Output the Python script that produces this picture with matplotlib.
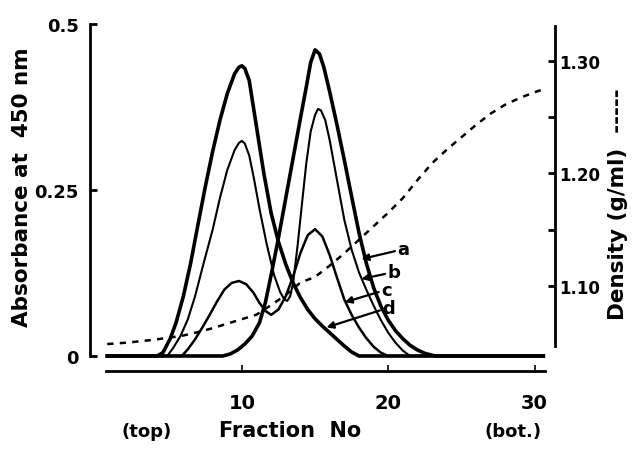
import matplotlib
matplotlib.use("Agg")
import matplotlib.pyplot as plt

# absorbance profiles (fraction number, A450)
frac_a = [0.8, 8.7, 9.2, 9.7, 10.2, 10.7, 11.2, 11.6, 12.0, 12.5, 13.0, 13.5, 14.0, 14.4, 14.7,
          15.0, 15.3, 15.6, 16.0, 16.5, 17.0, 17.5, 18.0, 18.5, 19.0, 19.5, 20.0, 20.5, 21.0,
          21.5, 22.0, 22.5, 23.2, 30.6]
abs_a = [0, 0, 0.003, 0.009, 0.018, 0.030, 0.050, 0.080, 0.122, 0.178, 0.238, 0.298, 0.358,
         0.405, 0.442, 0.461, 0.455, 0.435, 0.398, 0.348, 0.295, 0.240, 0.186, 0.140, 0.103,
         0.075, 0.054, 0.038, 0.026, 0.016, 0.009, 0.004, 0, 0]

frac_b = [0.8, 4.9, 5.3, 5.8, 6.3, 6.8, 7.4, 8.0, 8.5, 9.0, 9.5, 9.8, 10.0, 10.2, 10.5, 10.8,
          11.2, 11.7, 12.2, 12.6, 12.9, 13.1, 13.3, 13.5, 13.8, 14.1, 14.4, 14.7, 15.0, 15.2,
          15.4, 15.7, 16.0, 16.5, 17.0, 17.5, 18.0, 18.5, 19.0, 19.5, 20.0, 20.5, 21.0, 21.5, 30.6]
abs_b = [0, 0, 0.012, 0.030, 0.055, 0.090, 0.141, 0.190, 0.238, 0.280, 0.310, 0.321, 0.324,
         0.320, 0.302, 0.270, 0.222, 0.168, 0.122, 0.097, 0.085, 0.083, 0.090, 0.110, 0.165,
         0.228, 0.290, 0.338, 0.363, 0.372, 0.370, 0.355, 0.325, 0.265, 0.205, 0.160, 0.126,
         0.100, 0.076, 0.054, 0.035, 0.020, 0.008, 0, 0]

frac_c = [0.8, 5.9, 6.3, 6.8, 7.3, 7.8, 8.3, 8.8, 9.3, 9.8, 10.3, 10.8, 11.2, 11.6, 12.0,
          12.5, 13.0, 13.5, 14.0, 14.5, 15.0, 15.5, 16.0, 16.5, 17.0, 17.5, 18.0, 18.5, 19.0,
          19.5, 20.0, 30.6]
abs_c = [0, 0, 0.010, 0.025, 0.043, 0.062, 0.082, 0.100, 0.110, 0.113, 0.108, 0.095, 0.080,
         0.068, 0.062, 0.070, 0.090, 0.120, 0.155, 0.182, 0.191, 0.180, 0.152, 0.118, 0.085,
         0.062, 0.043, 0.027, 0.014, 0.005, 0, 0]

frac_d = [0.8, 4.2, 4.6, 5.1, 5.5, 6.0, 6.5, 7.0, 7.5, 8.0, 8.5, 9.0, 9.5, 9.8, 10.0, 10.2,
          10.5, 11.0, 11.5, 12.0, 12.5, 13.0, 13.5, 14.0, 14.5, 15.0, 15.5, 16.0, 16.5, 17.0,
          17.5, 18.0, 30.6]
abs_d = [0, 0, 0.005, 0.026, 0.050, 0.090, 0.140, 0.198, 0.255, 0.308, 0.355, 0.395, 0.425,
         0.435, 0.437, 0.433, 0.415, 0.345, 0.275, 0.215, 0.172, 0.138, 0.110, 0.088, 0.070,
         0.056, 0.045, 0.035, 0.025, 0.015, 0.006, 0, 0]

# density gradient (g/ml)
frac_dens = [0.8, 2, 3, 4, 5, 6, 7, 8, 9, 10, 11, 12, 13, 14, 15, 16, 17, 18, 19, 20, 21,
             22, 23, 24, 25, 26, 27, 28, 29, 30, 30.7]
density = [1.0484, 1.0495, 1.0508, 1.0523, 1.0540, 1.0560, 1.0590, 1.0625, 1.0665, 1.0705,
           1.0745, 1.0830, 1.0920, 1.1030, 1.1080, 1.1180, 1.1290, 1.1410, 1.1530, 1.1650,
           1.1780, 1.1940, 1.2090, 1.2210, 1.2320, 1.2430, 1.2530, 1.2610, 1.2670, 1.2720, 1.2750]

plt.rcParams['font.family'] = 'DejaVu Sans'
plt.rcParams['font.weight'] = 'bold'

fig = plt.figure(figsize=(6.37, 4.52), dpi=100)
ax = fig.add_axes([0.1413, 0.2102, 0.7300, 0.7345])

ax.plot(frac_a, abs_a, color='black', lw=2.6, clip_on=False, solid_joinstyle='round')
ax.plot(frac_b, abs_b, color='black', lw=1.5, clip_on=False, solid_joinstyle='round')
ax.plot(frac_c, abs_c, color='black', lw=1.8, clip_on=False, solid_joinstyle='round')
ax.plot(frac_d, abs_d, color='black', lw=2.6, clip_on=False, solid_joinstyle='round')

ax.set_xlim(-0.38, 31.4)
ax.set_ylim(0, 0.5)

ax2 = ax.twinx()
ax2.plot(frac_dens, density, color='black', lw=1.8, linestyle=(0, (2.5, 2.5)))
ax2.set_ylim(1.0378, 1.3326)

ax.spines['top'].set_visible(False)
ax2.spines['top'].set_visible(False)
ax.spines['right'].set_visible(False)
ax2.spines['left'].set_visible(False)
ax2.spines['bottom'].set_visible(False)

ax.spines['left'].set_linewidth(2)
ax.spines['bottom'].set_linewidth(2)
ax.spines['bottom'].set_position(('outward', 11))
ax.spines['bottom'].set_bounds(0.7, 30.7)
ax2.spines['right'].set_linewidth(2)
ax2.spines['right'].set_bounds(1.0467, 1.331)

ax.set_yticks([0, 0.25, 0.5])
ax.set_yticklabels(['0', '0.25', '0.5'], fontsize=13)
ax.set_xticks([10, 20, 30])
ax.set_xticklabels(['10', '20', '30'], fontsize=14)
ax.tick_params(axis='y', direction='in', length=5, width=2, pad=8)
ax.tick_params(axis='x', direction='in', length=4, width=1.2, pad=16)

ax2.set_yticks([1.10, 1.20, 1.30])
ax2.set_yticklabels(['1.10', '1.20', '1.30'], fontsize=12)
ax2.set_yticks([1.15, 1.25], minor=True)
ax2.tick_params(axis='y', which='both', direction='in', length=5, width=2, pad=3)

ax.set_ylabel('Absorbance at  450 nm', fontsize=15.5, fontweight='bold')
ax.yaxis.set_label_coords(-0.125, 0.51)
ax2.set_ylabel('Density (g/ml)  -----', fontsize=15.5, fontweight='bold', va='top')
ax2.yaxis.set_label_coords(1.113, 0.46)

fig.text(0.23, 0.033, '(top)', fontsize=13, fontweight='bold', ha='center')
fig.text(0.455, 0.033, 'Fraction  No', fontsize=15, fontweight='bold', ha='center')
fig.text(0.805, 0.033, '(bot.)', fontsize=13, fontweight='bold', ha='center')

arrow = dict(arrowstyle='-|>', lw=1.6, color='black', mutation_scale=10, shrinkA=0, shrinkB=0)
ax.annotate('a', xy=(18.17, 0.146), xytext=(20.65, 0.161), fontsize=13, fontweight='bold',
            va='center', ha='left', arrowprops=arrow)
ax.annotate('b', xy=(18.17, 0.116), xytext=(19.97, 0.1265), fontsize=13, fontweight='bold',
            va='center', ha='left', arrowprops=arrow)
ax.annotate('c', xy=(17.03, 0.081), xytext=(19.54, 0.100), fontsize=13, fontweight='bold',
            va='center', ha='left', arrowprops=arrow)
ax.annotate('d', xy=(15.78, 0.043), xytext=(19.62, 0.073), fontsize=13, fontweight='bold',
            va='center', ha='left', arrowprops=arrow)

fig.savefig('out.png', dpi=100)
